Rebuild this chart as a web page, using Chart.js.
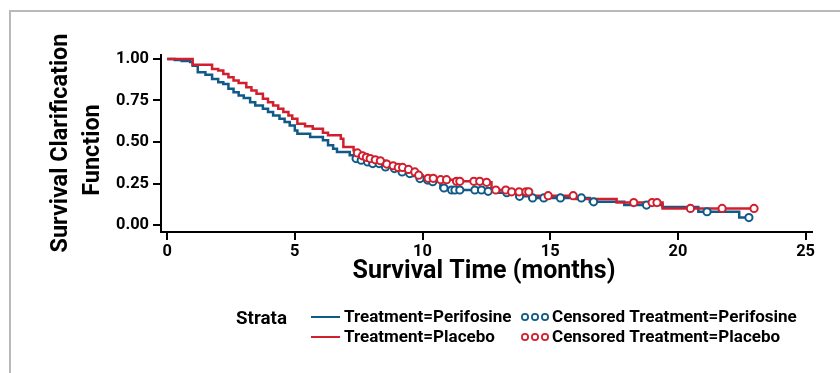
<!DOCTYPE html>
<html>
<head>
<meta charset="utf-8">
<script src="https://cdn.jsdelivr.net/npm/chart.js@4.4.1/dist/chart.umd.min.js"></script>
<style>
html,body{margin:0;padding:0;background:#fff;}
#wrap{position:relative;width:840px;height:373px;}
canvas{display:block;}
</style>
</head>
<body>
<div id="wrap"><canvas id="c" width="840" height="373"></canvas></div>
<script>
// ---- Data ----
const xTicks = [0, 5, 10, 15, 20, 25];
const yTicks = [0, 0.25, 0.5, 0.75, 1.0];

// Kaplan-Meier step points: Perifosine
const perifosineTime = [0, 0.3, 0.57, 0.9, 1.0, 1.2, 1.5, 1.76, 2.0, 2.2, 2.4, 2.6, 2.8, 3.0, 3.25, 3.45, 3.75, 3.95, 4.15, 4.4, 4.6, 4.8, 5.0, 5.1, 5.6, 6.1, 6.3, 6.5, 6.65, 7.15, 7.4, 7.6, 7.8, 8.1, 8.45, 8.8, 9.1, 9.4, 9.6, 9.8, 10.0, 10.3, 10.7, 11.1, 12.5, 13.0, 13.68, 14.2, 16.55, 17.9, 19.4, 20.8, 22.4, 22.78];
const perifosineSurv = [1.0, 0.994, 0.988, 0.982, 0.96, 0.92, 0.905, 0.88, 0.86, 0.85, 0.82, 0.80, 0.78, 0.765, 0.74, 0.72, 0.70, 0.68, 0.66, 0.64, 0.62, 0.60, 0.57, 0.55, 0.53, 0.51, 0.48, 0.46, 0.44, 0.42, 0.40, 0.39, 0.38, 0.37, 0.35, 0.34, 0.32, 0.31, 0.295, 0.28, 0.271, 0.261, 0.223, 0.211, 0.203, 0.195, 0.173, 0.163, 0.14, 0.12, 0.108, 0.08, 0.045, 0.045];

// Kaplan-Meier step points: Placebo
const placeboTime = [0, 1.0, 1.76, 2.0, 2.2, 2.4, 2.6, 2.8, 3.1, 3.3, 3.5, 3.75, 3.95, 4.15, 4.35, 4.55, 4.75, 4.9, 5.1, 5.4, 5.7, 6.1, 6.3, 6.8, 6.9, 7.3, 7.45, 7.65, 7.8, 7.95, 8.15, 8.35, 8.57, 8.85, 9.05, 9.3, 9.6, 9.8, 10.0, 10.2, 10.7, 11.3, 12.5, 12.7, 13.45, 14.27, 16.0, 17.6, 19.4, 22.98];
const placeboSurv = [1.0, 0.965, 0.94, 0.93, 0.91, 0.89, 0.87, 0.855, 0.83, 0.81, 0.79, 0.76, 0.74, 0.72, 0.70, 0.68, 0.66, 0.64, 0.61, 0.595, 0.58, 0.555, 0.54, 0.52, 0.47, 0.45, 0.434, 0.417, 0.408, 0.40, 0.393, 0.387, 0.367, 0.357, 0.347, 0.335, 0.32, 0.30, 0.29, 0.281, 0.273, 0.263, 0.257, 0.211, 0.20, 0.177, 0.157, 0.135, 0.10, 0.10];

// Censored observations
const perifosineCensorTime = [7.4, 7.6, 7.85, 8.05, 8.3, 8.55, 8.9, 9.2, 9.5, 9.9, 10.2, 10.4, 10.84, 11.14, 11.27, 11.46, 12.05, 12.31, 12.57, 13.3, 13.8, 14.31, 14.75, 15.4, 16.22, 16.7, 18.77, 21.14, 22.78];
const perifosineCensorSurv = [0.40, 0.39, 0.38, 0.37, 0.37, 0.35, 0.34, 0.32, 0.31, 0.28, 0.271, 0.261, 0.223, 0.211, 0.211, 0.211, 0.211, 0.211, 0.203, 0.195, 0.173, 0.163, 0.163, 0.163, 0.163, 0.14, 0.12, 0.08, 0.045];

const placeboCensorTime = [7.45, 7.65, 7.8, 7.95, 8.15, 8.35, 8.6, 8.85, 9.05, 9.22, 9.45, 9.7, 9.85, 10.22, 10.42, 10.71, 10.94, 11.33, 11.46, 12.01, 12.24, 12.51, 12.87, 13.26, 13.49, 13.78, 14.05, 14.16, 14.92, 15.9, 18.27, 18.99, 19.18, 20.49, 21.73, 22.98];
const placeboCensorSurv = [0.434, 0.417, 0.408, 0.40, 0.393, 0.387, 0.367, 0.357, 0.347, 0.347, 0.335, 0.32, 0.30, 0.281, 0.281, 0.273, 0.273, 0.263, 0.263, 0.263, 0.263, 0.257, 0.211, 0.211, 0.20, 0.20, 0.20, 0.20, 0.177, 0.177, 0.135, 0.135, 0.135, 0.10, 0.10, 0.10];

// ---- Styling ----
const BLUE = '#0f5a88';
const RED = '#d21f2e';
const FAMILY = 'Roboto, "Open Sans", sans-serif';
const WEIGHT = 'bold';

// size a font so that a text has the width it has in the reference
const mctx = document.createElement('canvas').getContext('2d');
function fitSize(text, width) {
  mctx.font = WEIGHT + ' 100px ' + FAMILY;
  return 100 * width / mctx.measureText(text).width;
}
const tickSize = fitSize('1.00', 33);
const titleSize = fitSize('Survival Time (months)', 263);
const yTitleSize = fitSize('Survival Clarification', 219);
const legendSize = fitSize('Censored Treatment=Perifosine', 245);
const strataSize = fitSize('Strata', 51);

const pts = (xs, ys) => xs.map((x, i) => ({x: x, y: ys[i]}));

const decor = {
  id: 'decor',
  beforeDraw(chart) {
    const ctx = chart.ctx;
    ctx.save();
    ctx.fillStyle = '#fff';
    ctx.fillRect(0, 0, chart.width, chart.height);
    ctx.fillStyle = '#b9b9b9';
    ctx.fillRect(9, 10, chart.width - 9, 2);
    ctx.fillRect(9, 10, 2, chart.height - 10);
    ctx.restore();
  },
  afterDraw(chart) {
    const ctx = chart.ctx;
    ctx.save();
    ctx.fillStyle = '#000';
    ctx.textAlign = 'center';
    // y title (two rotated lines)
    ctx.textBaseline = 'alphabetic';
    ctx.font = WEIGHT + ' ' + yTitleSize + 'px ' + FAMILY;
    ctx.save();
    ctx.translate(67, 143);
    ctx.rotate(-Math.PI / 2);
    ctx.fillText('Survival Clarification', 0, 0);
    ctx.restore();
    ctx.save();
    ctx.translate(99, 150);
    ctx.rotate(-Math.PI / 2);
    ctx.fillText('Function', 0, 0);
    ctx.restore();
    // x title
    ctx.textBaseline = 'middle';
    ctx.font = WEIGHT + ' ' + titleSize + 'px ' + FAMILY;
    ctx.fillText('Survival Time (months)', 484, 272);
    // legend
    ctx.textAlign = 'left';
    ctx.font = WEIGHT + ' ' + strataSize + 'px ' + FAMILY;
    ctx.fillText('Strata', 236, 319);
    ctx.font = WEIGHT + ' ' + legendSize + 'px ' + FAMILY;
    const rows = [
      {y: 317, color: BLUE, a: 'Treatment=Perifosine', b: 'Censored Treatment=Perifosine'},
      {y: 337, color: RED, a: 'Treatment=Placebo', b: 'Censored Treatment=Placebo'}
    ];
    rows.forEach(r => {
      ctx.strokeStyle = r.color;
      ctx.lineWidth = 2;
      ctx.beginPath();
      ctx.moveTo(311, r.y);
      ctx.lineTo(340, r.y);
      ctx.stroke();
      ctx.fillStyle = '#000';
      ctx.fillText(r.a, 344, r.y + 1);
      [525, 535, 545].forEach(cx => {
        ctx.beginPath();
        ctx.arc(cx, r.y, 3.1, 0, Math.PI * 2);
        ctx.lineWidth = 1.8;
        ctx.stroke();
      });
      ctx.fillText(r.b, 552, r.y + 1);
    });
    ctx.restore();
  }
};

new Chart(document.getElementById('c'), {
  type: 'scatter',
  data: {
    datasets: [
      {label: 'Censored Treatment=Placebo', data: pts(placeboCensorTime, placeboCensorSurv), showLine: false,
        pointRadius: 3.6, pointBorderWidth: 2, pointBackgroundColor: '#fff', pointBorderColor: RED, pointStyle: 'circle'},
      {label: 'Censored Treatment=Perifosine', data: pts(perifosineCensorTime, perifosineCensorSurv), showLine: false,
        pointRadius: 3.6, pointBorderWidth: 2, pointBackgroundColor: '#fff', pointBorderColor: BLUE, pointStyle: 'circle'},
      {label: 'Treatment=Placebo', data: pts(placeboTime, placeboSurv), showLine: true, stepped: true,
        borderColor: RED, borderWidth: 2.5, pointRadius: 0, fill: false},
      {label: 'Treatment=Perifosine', data: pts(perifosineTime, perifosineSurv), showLine: true, stepped: true,
        borderColor: BLUE, borderWidth: 2.5, pointRadius: 0, fill: false}
    ]
  },
  options: {
    responsive: false,
    animation: false,
    events: [],
    layout: {padding: {left: 0, top: 55, right: 28, bottom: 0}},
    plugins: {legend: {display: false}, tooltip: {enabled: false}},
    scales: {
      x: {
        type: 'linear', min: -0.24, max: 25.25,
        afterFit(s) { s.height = 141; },
        afterBuildTicks(s) { s.ticks = xTicks.map(v => ({value: v})); },
        grid: {display: true, drawOnChartArea: false, drawTicks: true, tickLength: 8, color: '#000', lineWidth: 2},
        border: {display: true, color: '#000', width: 2},
        ticks: {color: '#000', padding: 2, maxRotation: 0, font: {family: FAMILY, size: tickSize, weight: 'bold'},
          callback: v => String(v)}
      },
      y: {
        type: 'linear', min: -0.042, max: 1.024,
        afterFit(s) { s.width = 161; },
        afterBuildTicks(s) { s.ticks = yTicks.map(v => ({value: v})); },
        grid: {display: true, drawOnChartArea: false, drawTicks: true, tickLength: 8, color: '#000', lineWidth: 2},
        border: {display: true, color: '#000', width: 2},
        ticks: {color: '#000', padding: 4, font: {family: FAMILY, size: tickSize, weight: 'bold'},
          callback: v => v.toFixed(2)}
      }
    }
  },
  plugins: [decor]
});
</script>
</body>
</html>
